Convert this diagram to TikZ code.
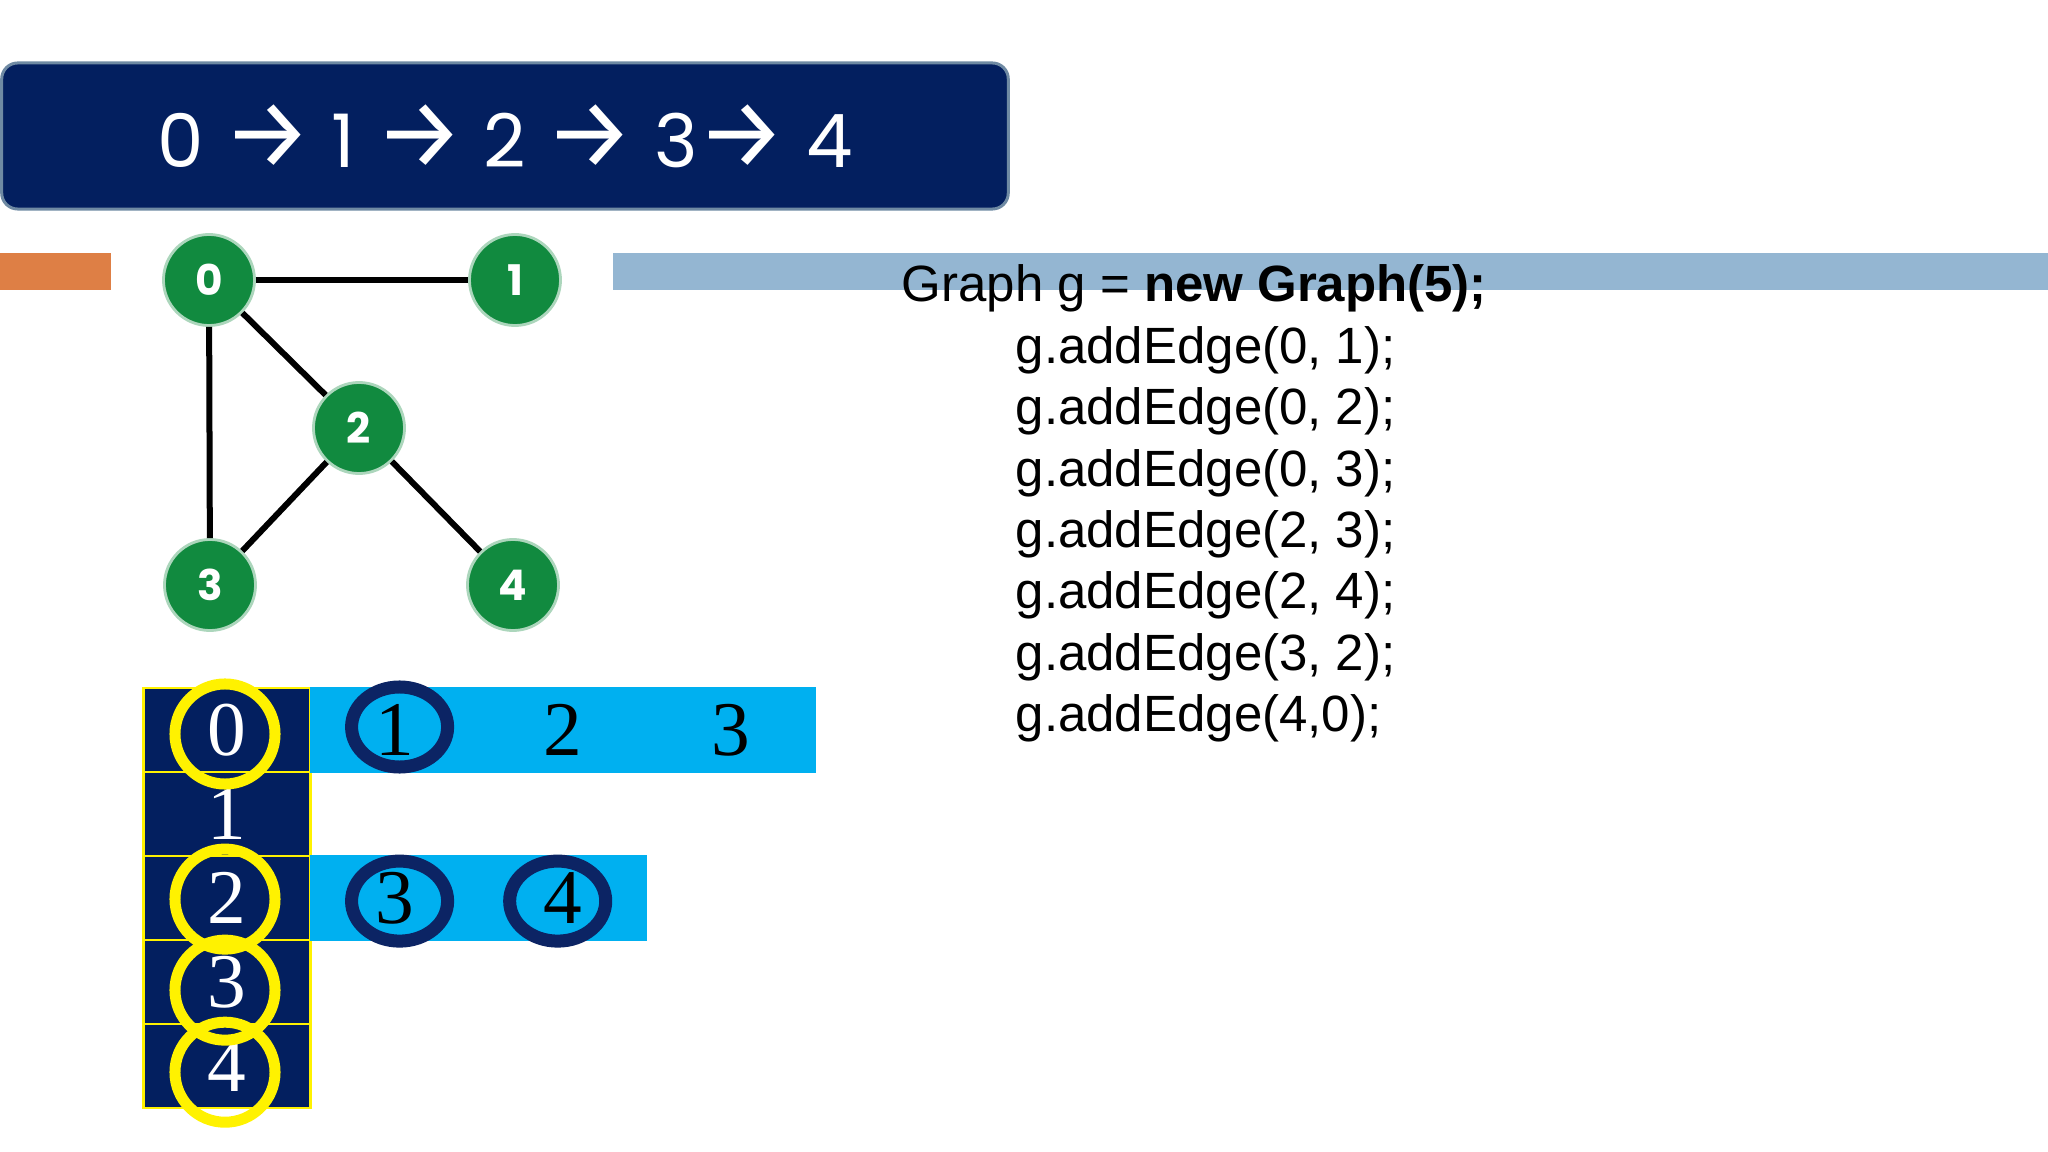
\documentclass[tikz,border=0pt]{standalone}
\usepackage{fontspec}
\setmainfont{Liberation Sans}
\newfontfamily\titlefont{Poppins}
\newfontfamily\arrowfont{Fira Sans}
\newfontfamily\cellfont{Liberation Serif}
\usetikzlibrary{shapes.geometric, positioning, calc}
\definecolor{Navy}{HTML}{031F5F}
\definecolor{NavyRim}{HTML}{6F8AA3}
\definecolor{Ring}{HTML}{0C2464}
\definecolor{Leaf}{HTML}{118A3F}
\definecolor{Sky}{HTML}{00B0F0}
\definecolor{Steel}{HTML}{94B6D2}
\definecolor{Amber}{HTML}{DE7F45}
\newcommand{\nxt}{{\arrowfont\fontsize{28}{28}\selectfont →}}

\begin{document}
\begin{tikzpicture}[
      x=0.01cm, y=-0.01cm,
      banner/.style={draw=NavyRim, fill=Navy, rounded corners=0.16cm, line width=0.03cm,
                     minimum width=10.06cm, minimum height=1.46cm, text=white,
                     font=\titlefont\fontsize{21}{24}\selectfont},
      vert/.style={circle, fill=Leaf, draw=Leaf!35, line width=0.8pt, minimum size=0.91cm,
                   inner sep=0pt, text=white, font=\titlefont\bfseries\fontsize{12}{14}\selectfont},
      edge/.style={line width=0.06cm, black},
      idx/.style={fill=Navy, draw=yellow, line width=0.6pt, minimum width=1.67cm,
                  minimum height=0.84cm, inner sep=0pt, outer sep=0pt, text=white,
                  font=\cellfont\fontsize{22}{24}\selectfont},
      entry/.style={fill=Sky, draw=Sky, line width=0.4pt, minimum width=1.68cm,
                    minimum height=0.84cm, inner sep=0pt, outer sep=0pt,
                    font=\cellfont\fontsize{22}{24}\selectfont},
      yring/.style={circle, draw=yellow, line width=0.11cm, minimum size=1.0cm, inner sep=0pt},
      nring/.style={ellipse, draw=Ring, line width=0.13cm, minimum width=0.96cm,
                    minimum height=0.8cm, inner sep=0pt},
      code/.style={anchor=base west, font=\fontsize{14.5}{17}\selectfont, inner sep=0pt}
    ]
    \useasboundingbox (0,0) rectangle (2048,1152);

    % traversal order
    \node[banner] (order) at (505,136) {0 \nxt{} 1 \nxt{} 2 \nxt{} 3\nxt{} 4};

    \fill[Amber] (0,253) rectangle (111,290);
    \fill[Steel] (613,253) rectangle (2048,290);

    % graph
    \node[vert] (v0) at (209,280) {0};
    \node[vert] (v1) at (515,280) {1};
    \node[vert] (v2) at (359,428) {2};
    \node[vert] (v3) at (210,585) {3};
    \node[vert] (v4) at (513,585) {4};

    \draw[edge] (v0) -- (v1);
    \draw[edge] (v0) -- (v2);
    \draw[edge] (v0) -- (v3);
    \draw[edge] (v2) -- (v3);
    \draw[edge] (v2) -- (v4);

    % adjacency list
    \node[idx] (r0) at (227,730) {0};
    \node[idx, below=0pt of r0] (r1) {1};
    \node[idx, below=0pt of r1] (r2) {2};
    \node[idx, below=0pt of r2] (r3) {3};
    \node[idx, below=0pt of r3] (r4) {4};

    \node[entry, right=0pt of r0]  (e01) {1};
    \node[entry, right=0pt of e01] (e02) {2};
    \node[entry, right=0pt of e02] (e03) {3};
    \node[entry, right=0pt of r2]  (e21) {3};
    \node[entry, right=0pt of e21] (e22) {4};

    \node[yring] (k0) at ([shift={(-2,4)}]r0.center) {};
    \node[yring] (k2) at ([shift={(-2,1)}]r2.center) {};
    \node[yring] (k3) at ([shift={(-2,8)}]r3.center) {};
    \node[yring] (k4) at ([shift={(-2,6)}]r4.center) {};

    \node[nring] (m01) at ([shift={(5,-3)}]e01.center) {};
    \node[nring] (m21) at ([shift={(5,3)}]e21.center) {};
    \node[nring] (m22) at ([shift={(-5,3)}]e22.center) {};

    % code
    \node[code] (c0) at (901,302) {Graph g = \textbf{new Graph(5);}};
    \foreach \pair [count=\i] in {{0, 1},{0, 2},{0, 3},{2, 3},{2, 4},{3, 2},{4,0}}
      \node[code] (c\i) at (1015,302+61.4*\i) {g.addEdge(\pair);};

  \end{tikzpicture}
\end{document}
